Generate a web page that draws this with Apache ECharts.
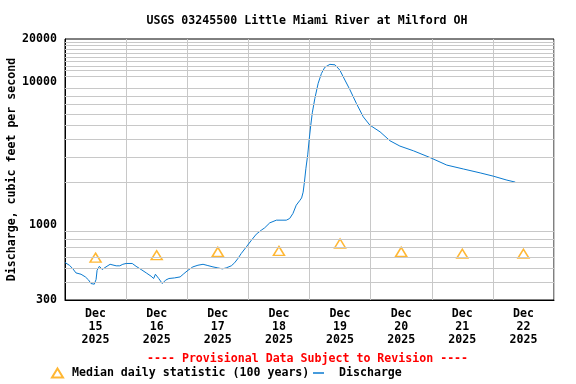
<!DOCTYPE html>
<html>
<head>
<meta charset="utf-8">
<script src="https://cdn.jsdelivr.net/npm/echarts@6/dist/echarts.min.js"></script>
<style>
html,body{margin:0;padding:0;background:#fff;}
#chart{width:576px;height:384px;}
</style>
</head>
<body>
<div id="chart"></div>
<script>
// ---- data ----
var titleText = 'USGS 03245500 Little Miami River at Milford OH';
var yAxisName = 'Discharge, cubic feet per second';
var provisionalText = '---- Provisional Data Subject to Revision ----';
var monthLabel = 'Dec';
var yearLabel = '2025';
var dayLabels = ['15', '16', '17', '18', '19', '20', '21', '22'];
// hours since Dec 15 00:00
var dayNoonHours = [12, 36, 60, 84, 108, 132, 156, 180];
var medianValues = [593, 617, 651, 661, 745, 651, 632, 632];
var dischargeHours = [0, 1.7, 3, 4.3, 6.3, 8, 9.3, 10.2, 11.5, 12.2, 12.6, 13.5, 14.6, 16.1, 17.7, 20.1, 21.5, 22.7, 24, 26.4,
  27.9, 29.9, 31.9, 33.8, 34.8, 35.5, 35.9, 36.8, 38.2, 39.5, 40.8, 43, 45.2, 46.6, 48.3, 50.2, 52.2, 54.2, 56.1, 58.1,
  60, 61.8, 63.3, 65.3, 66.6, 67.9, 69.2, 71.2, 73.2, 75.1, 77.1, 78.4, 80.4, 83, 86.9, 88.2, 89.5, 90.8, 92.1, 92.9,
  93.5, 94, 94.6, 95.3, 95.9, 96.5, 97.1, 98.1, 99.4, 100.7, 102, 104, 106, 107.9, 109.9, 111.8, 114.4, 117.1, 119.7, 123.7,
  127.6, 131.5, 136.8, 143.3, 149.9, 156.4, 163, 168.2, 173.5, 176.8];
var dischargeValues = [548, 525, 498, 464, 454, 435, 413, 391, 387, 417, 484, 516, 490, 511, 533, 520, 520, 533, 540, 540,
  516, 490, 464, 440, 424, 454, 454, 424, 391, 413, 424, 428, 435, 457, 484, 511, 525, 533, 522, 511,
  503, 495, 503, 520, 546, 585, 634, 705, 785, 865, 923, 958, 1038, 1084, 1084, 1113, 1207, 1380, 1480, 1550,
  1700, 2000, 2500, 3100, 4000, 5000, 6100, 7690, 9800, 11500, 12680, 13300, 13200, 12130, 10330, 8890, 7100, 5720, 5000, 4490,
  3890, 3570, 3310, 2970, 2630, 2470, 2320, 2200, 2065, 2000];
var yGridValues = [400, 500, 600, 700, 800, 900, 2000, 3000, 4000, 5000, 6000, 7000, 8000, 9000,
  11000, 12000, 13000, 14000, 15000, 16000, 17000, 18000, 19000];
var xMin = 0, xMax = 192, xStep = 24;
var yMin = 300, yMax = 20000;
var medianName = 'Median daily statistic (100 years)';
var dischargeName = 'Discharge';

// ---- chart ----
var FONT = 'DejaVu Sans Mono';
var chart = echarts.init(document.getElementById('chart'), null, {renderer: 'canvas'});
var dischargeData = dischargeHours.map(function (h, i) { return [h, dischargeValues[i]]; });
var medianData = dayNoonHours.map(function (h, i) { return [h, medianValues[i]]; });

var option = {
  animation: false,
  backgroundColor: '#fff',
  title: {
    text: titleText, padding: 0,
    left: 307, top: 15, textAlign: 'center',
    textStyle: {fontFamily: FONT, fontSize: 11.6, fontWeight: 'bold', color: '#000'}
  },
  grid: {left: 65, right: 22, top: 39, bottom: 84, show: true, borderColor: '#000', borderWidth: 1,
    backgroundColor: '#fff', containLabel: false, outerBoundsMode: 'none'},
  legend: [{
    data: [medianName], left: 51, top: 367, padding: 0, itemWidth: 11, itemHeight: 9, selectedMode: false,
    textStyle: {fontFamily: FONT, fontSize: 11.6, fontWeight: 'bold', color: '#000', padding: [0, 0, 0, 4]}
  }, {
    data: [{name: dischargeName, icon: 'rect'}], left: 313, top: 367, padding: 0, itemWidth: 11, itemHeight: 1.5, selectedMode: false,
    textStyle: {fontFamily: FONT, fontSize: 11.6, fontWeight: 'bold', color: '#000', padding: [0, 0, 0, 10]}
  }],
  graphic: [{
    type: 'text', left: 147, top: 353,
    style: {text: provisionalText, fill: '#ff0000', font: 'bold 11.6px "' + FONT + '"'}
  }],
  xAxis: {
    type: 'value', min: xMin, max: xMax, interval: xStep,
    axisLine: {show: true, lineStyle: {color: '#000', width: 1}},
    axisTick: {show: false},
    splitLine: {show: true, lineStyle: {color: '#c8c8c8', width: 1}},
    axisLabel: {
      customValues: dayNoonHours,
      margin: 7, lineHeight: 13,
      fontFamily: FONT, fontSize: 11.6, fontWeight: 'bold', color: '#000',
      formatter: function (v) {
        var i = dayNoonHours.indexOf(Math.round(v));
        return monthLabel + '\n' + dayLabels[i] + '\n' + yearLabel;
      }
    }
  },
  yAxis: {
    type: 'log', logBase: 10, min: yMin, max: yMax,
    name: yAxisName, nameLocation: 'middle', nameGap: 47, nameRotate: 90, nameMoveOverlap: false,
    nameTextStyle: {fontFamily: FONT, fontSize: 11.6, fontWeight: 'bold', color: '#000'},
    axisLine: {show: true, lineStyle: {color: '#000', width: 1}},
    axisTick: {show: false},
    splitLine: {show: false},
    axisLabel: {
      margin: 8, fontFamily: FONT, fontSize: 11.6, fontWeight: 'bold', color: '#000',
      formatter: function (v) { return String(Math.round(v)); }
    }
  },
  series: [{
    name: 'grid', type: 'line', data: [], z: 0, silent: true,
    markLine: {
      silent: true, symbol: ['none', 'none'], animation: false,
      label: {show: false},
      lineStyle: {color: '#c8c8c8', type: 'solid', width: 1},
      emphasis: {disabled: true},
      data: yGridValues.map(function (v) { return {yAxis: v}; })
    }
  }, {
    name: dischargeName, type: 'line', data: dischargeData, showSymbol: false, symbol: 'none',
    lineStyle: {color: '#0a7ad0', width: 1}, itemStyle: {color: '#0a7ad0'}, z: 3
  }, {
    name: medianName, type: 'scatter', data: medianData, symbol: 'triangle', symbolSize: [11, 9],
    itemStyle: {color: 'rgba(0,0,0,0)', borderColor: '#ffa500', borderWidth: 1.5}, z: 4
  }]
};
chart.setOption(option);
</script>
</body>
</html>
